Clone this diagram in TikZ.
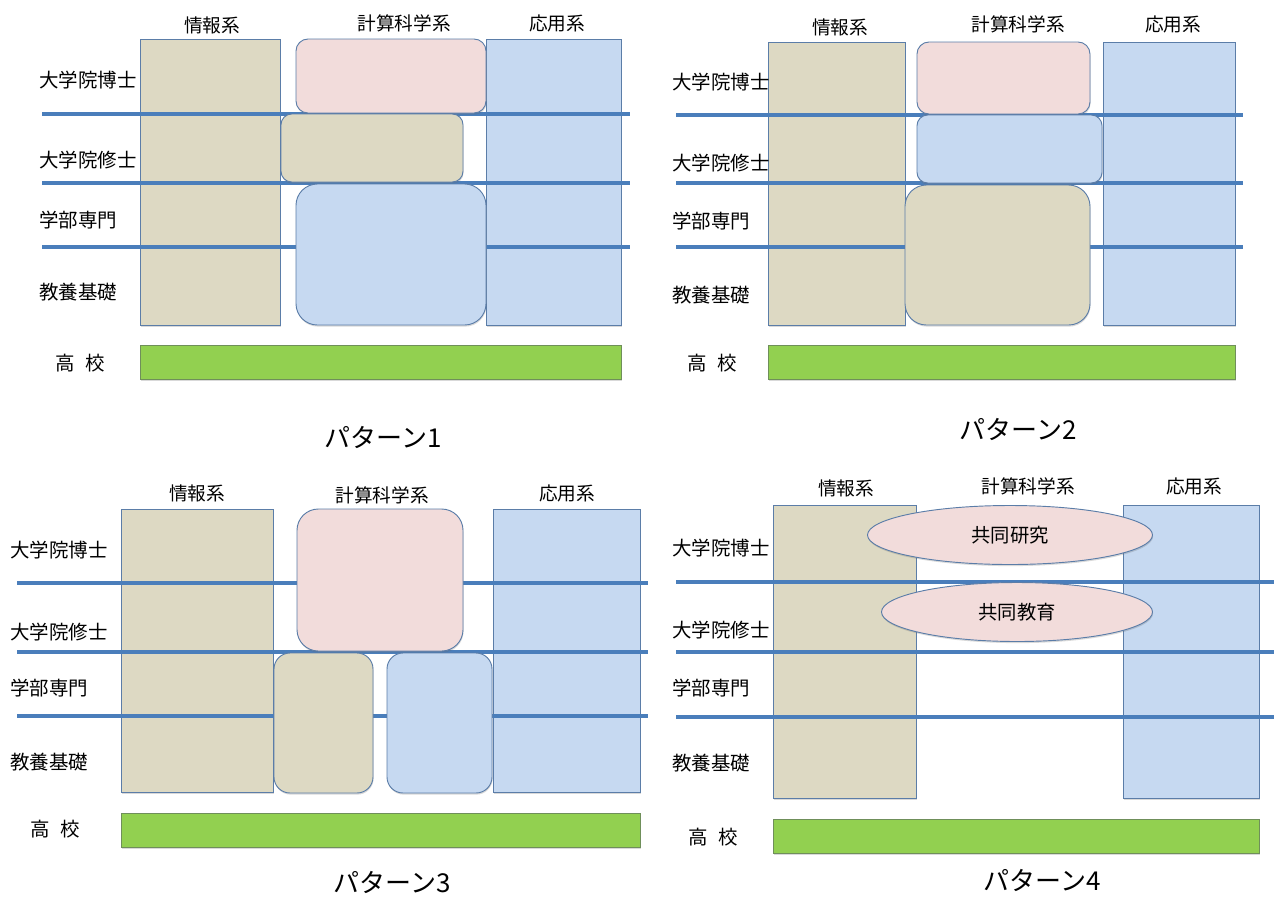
\documentclass[tikz,border=0pt]{standalone}
\usepackage{fontspec}
\setmainfont{Noto Sans CJK JP}
\usetikzlibrary{fit,shapes.geometric,shadows}
\definecolor{beige}{HTML}{DDD9C3}
\definecolor{pinkc}{HTML}{F2DCDB}
\definecolor{bluec}{HTML}{C6D9F1}
\definecolor{greenc}{HTML}{92D050}
\definecolor{edgec}{HTML}{5B7DA8}
\definecolor{greenedge}{HTML}{6F8F5A}
\definecolor{linec}{HTML}{4A7EBB}
\tikzset{
  shad/.style={drop shadow={shadow xshift=0.4pt,shadow yshift=-1.2pt,opacity=0.25,fill=black!60}},
  colbox/.style={draw=edgec,line width=0.7pt,inner sep=0pt,outer sep=0pt,shad},
  infobox/.style={colbox,fill=beige},
  appbox/.style={colbox,fill=bluec},
  hsbox/.style={draw=greenedge,line width=0.7pt,fill=greenc,inner sep=0pt,outer sep=0pt,shad},
  rbox/.style={draw=edgec,line width=0.7pt,inner sep=0pt,outer sep=0pt,shad,rounded corners=#1},
  rbox/.default=9pt,
  ellbox/.style={ellipse,draw=edgec,line width=0.7pt,fill=pinkc,inner sep=0pt,shad,font=\fontsize{14.5}{16}\selectfont},
  divider/.style={draw=linec,line width=3pt},
  head/.style={font=\fontsize{14}{15}\selectfont,inner sep=0pt},
  rowlab/.style={font=\fontsize{14.6}{16}\selectfont,inner sep=0pt,anchor=west},
  hslab/.style={font=\fontsize{14.6}{16}\selectfont,inner sep=0pt},
  ttl/.style={font=\fontsize{19.5}{22}\selectfont,inner sep=0pt}
}
\begin{document}
\begin{tikzpicture}[x=0.75pt,y=-0.75pt]
\useasboundingbox (0,0) rectangle (1274,897);
% ================= Panel 1 =================
\node[head] (p1h1) at (212,25) {情報系};
\node[head] (p1h2) at (404,23) {計算科学系};
\node[head] (p1h3) at (557,23) {応用系};
\node[infobox,fit={(140,39)(280,325)}] (p1info) {};
\node[appbox,fit={(486,39)(621,325)}] (p1app) {};
\coordinate (p1a1) at (42,114); \coordinate (p1b1) at (630,114);
\coordinate (p1a2) at (42,183); \coordinate (p1b2) at (630,183);
\coordinate (p1a3) at (42,247); \coordinate (p1b3) at (630,247);
\draw[divider] (p1a1) -- (p1b1);
\draw[divider] (p1a2) -- (p1b2);
\draw[divider] (p1a3) -- (p1b3);
\node[rbox=9pt,fill=pinkc,fit={(296,39)(486,113)}] (p1doc) {};
\node[rbox=8pt,fill=beige,fit={(281,114)(463,182)}] (p1mas) {};
\node[rbox=16pt,fill=bluec,fit={(296,184)(486,325)}] (p1und) {};
\node[hsbox,fit={(140,345)(621,379)}] (p1hs) {};
\node[rowlab] (p1r1) at (39,80) {大学院博士};
\node[rowlab] (p1r2) at (39,160) {大学院修士};
\node[rowlab] (p1r3) at (39,220) {学部専門};
\node[rowlab] (p1r4) at (39,292) {教養基礎};
\node[hslab] (p1r5) at (80,363) {高\hspace{0.55em}校};
\node[ttl] (p1t) at (383,437) {パターン1};
% ================= Panel 2 =================
\node[head] (p2h1) at (840,27) {情報系};
\node[head] (p2h2) at (1018,24) {計算科学系};
\node[head] (p2h3) at (1173,24) {応用系};
\node[infobox,fit={(768,42)(905,325)}] (p2info) {};
\node[appbox,fit={(1103,42)(1235,325)}] (p2app) {};
\coordinate (p2a1) at (676,115); \coordinate (p2b1) at (1243,115);
\coordinate (p2a2) at (676,183); \coordinate (p2b2) at (1243,183);
\coordinate (p2a3) at (676,247); \coordinate (p2b3) at (1243,247);
\draw[divider] (p2a1) -- (p2b1);
\draw[divider] (p2a2) -- (p2b2);
\draw[divider] (p2a3) -- (p2b3);
\node[rbox=9pt,fill=pinkc,fit={(917,42)(1090,114)}] (p2doc) {};
\node[rbox=8pt,fill=bluec,fit={(917,115)(1102,183)}] (p2mas) {};
\node[rbox=16pt,fill=beige,fit={(905,185)(1090,325)}] (p2und) {};
\node[hsbox,fit={(768,345)(1235,379)}] (p2hs) {};
\node[rowlab] (p2r1) at (672,82) {大学院博士};
\node[rowlab] (p2r2) at (672,163) {大学院修士};
\node[rowlab] (p2r3) at (672,221) {学部専門};
\node[rowlab] (p2r4) at (672,295) {教養基礎};
\node[hslab] (p2r5) at (712,363) {高\hspace{0.55em}校};
\node[ttl] (p2t) at (1018,429) {パターン2};
% ================= Panel 3 =================
\node[head] (p3h1) at (197,493) {情報系};
\node[head] (p3h2) at (382,495) {計算科学系};
\node[head] (p3h3) at (567,493) {応用系};
\node[infobox,fit={(121,509)(273,792)}] (p3info) {};
\node[appbox,fit={(493,509)(640,792)}] (p3app) {};
\coordinate (p3a1) at (17,583); \coordinate (p3b1) at (648,583);
\coordinate (p3a2) at (17,652); \coordinate (p3b2) at (648,652);
\coordinate (p3a3) at (17,716); \coordinate (p3b3) at (648,716);
\draw[divider] (p3a1) -- (p3b1);
\draw[divider] (p3a2) -- (p3b2);
\draw[divider] (p3a3) -- (p3b3);
\node[rbox=16pt,fill=pinkc,fit={(297,509)(463,651)}] (p3doc) {};
\node[rbox=12pt,fill=beige,fit={(274,653)(373,793)}] (p3und1) {};
\node[rbox=12pt,fill=bluec,fit={(387,653)(492,793)}] (p3und2) {};
\node[hsbox,fit={(121,813)(640,847)}] (p3hs) {};
\node[rowlab] (p3r1) at (10,550) {大学院博士};
\node[rowlab] (p3r2) at (10,632) {大学院修士};
\node[rowlab] (p3r3) at (10,688) {学部専門};
\node[rowlab] (p3r4) at (10,762) {教養基礎};
\node[hslab] (p3r5) at (55,829) {高\hspace{0.55em}校};
\node[ttl] (p3t) at (392,882) {パターン3};
% ================= Panel 4 =================
\node[head] (p4h1) at (846,488) {情報系};
\node[head] (p4h2) at (1028,486) {計算科学系};
\node[head] (p4h3) at (1194,486) {応用系};
\node[infobox,fit={(773,505)(916,798)}] (p4info) {};
\node[appbox,fit={(1123,505)(1259,798)}] (p4app) {};
\coordinate (p4a1) at (676,582); \coordinate (p4b1) at (1274,582);
\coordinate (p4a2) at (676,652); \coordinate (p4b2) at (1274,652);
\coordinate (p4a3) at (676,717); \coordinate (p4b3) at (1274,717);
\draw[divider] (p4a1) -- (p4b1);
\draw[divider] (p4a2) -- (p4b2);
\draw[divider] (p4a3) -- (p4b3);
\node[ellbox,minimum width=213.75pt,minimum height=44.25pt] (p4res) at (1010,535) {共同研究};
\node[ellbox,minimum width=203.25pt,minimum height=44.25pt] (p4edu) at (1017,612) {共同教育};
\node[hsbox,fit={(773,819)(1259,853)}] (p4hs) {};
\node[rowlab] (p4r1) at (672,548) {大学院博士};
\node[rowlab] (p4r2) at (672,630) {大学院修士};
\node[rowlab] (p4r3) at (672,688) {学部専門};
\node[rowlab] (p4r4) at (672,763) {教養基礎};
\node[hslab] (p4r5) at (713,837) {高\hspace{0.55em}校};
\node[ttl] (p4t) at (1042,880) {パターン4};
\end{tikzpicture}
\end{document}
